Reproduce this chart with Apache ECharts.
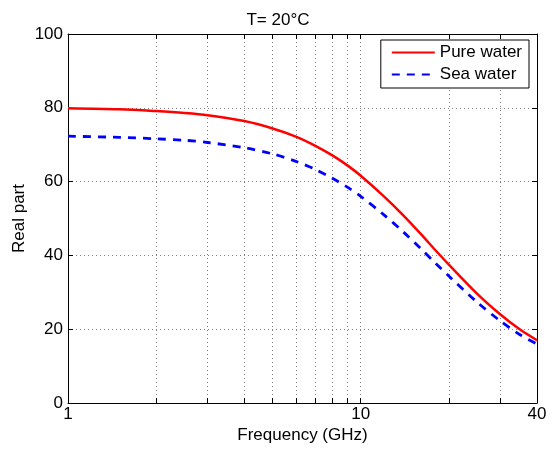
<!DOCTYPE html>
<html>
<head>
<meta charset="utf-8">
<script src="https://cdn.jsdelivr.net/npm/echarts@6/dist/echarts.min.js"></script>
<style>
  html, body { margin: 0; padding: 0; background: #fff; }
  #chart { width: 556px; height: 450px; }
</style>
</head>
<body>
<div id="chart"></div>
<script>
// Real part of the permittivity of water at 20 °C versus frequency
const freqGHz   = [1, 1.5, 2, 2.5, 3, 4, 5, 6, 7, 8, 9, 10, 12, 14, 16, 18, 20, 25, 30, 35, 40];
const pureWater = [79.9, 79.6, 79.1, 78.6, 78.0, 76.4, 74.4, 72.2, 69.7, 67.1, 64.4, 61.6, 56.0, 50.8, 45.9, 41.4, 37.5, 29.6, 24.0, 19.9, 17.0];
const seaWater  = [72.3, 72.0, 71.6, 71.2, 70.6, 69.2, 67.5, 65.5, 63.3, 60.9, 58.5, 56.0, 51.0, 46.3, 41.9, 37.9, 34.4, 27.3, 22.2, 18.5, 16.0];

const xTickValues  = [1, 2, 3, 4, 5, 6, 7, 8, 9, 10, 20, 30, 40];
const xLabelValues = [1, 10, 40];
const yTicks = { min: 0, max: 100, step: 20 };

const FONT = 'Liberation Sans, Arial, sans-serif';
const FS = 17;

function pairs(xs, ys) {
  return xs.map((x, i) => [x, ys[i]]);
}

const dotted = { color: '#808080', width: 1, type: [1, 3] };

const chart = echarts.init(document.getElementById('chart'), null, { renderer: 'canvas' });

chart.setOption({
  backgroundColor: '#fff',
  animation: false,
  textStyle: { fontFamily: FONT },
  title: {
    text: 'T= 20°C',
    left: 'center',
    top: 7,
    textStyle: { fontFamily: FONT, fontSize: FS, fontWeight: 'normal', color: '#000' }
  },
  grid: { left: 68, right: 19, top: 34, bottom: 47, containLabel: false },
  legend: {
    orient: 'vertical',
    right: 27,
    top: 40,
    padding: [4, 7, 5, 10],
    itemGap: 5,
    itemWidth: 43,
    itemHeight: 17,
    backgroundColor: '#fff',
    borderColor: '#000',
    borderWidth: 1,
    borderRadius: 0,
    itemStyle: { opacity: 0 },
    textStyle: { fontFamily: FONT, fontSize: FS, color: '#000' },
    data: ['Pure water', 'Sea water']
  },
  xAxis: [
    {
      type: 'log',
      logBase: 10,
      min: 1,
      max: 40,
      name: 'Frequency (GHz)',
      nameLocation: 'middle',
      nameGap: 24,
      nameMoveOverlap: false,
      nameTextStyle: { fontFamily: FONT, fontSize: FS, color: '#000' },
      axisLine: { show: true, onZero: false, lineStyle: { color: '#000', width: 1 } },
      axisTick: { show: true, inside: true, length: 5, customValues: xTickValues, lineStyle: { color: '#000' } },
      axisLabel: {
        customValues: xLabelValues,
        formatter: v => String(Math.round(v)),
        fontFamily: FONT, fontSize: FS, color: '#000', margin: 3
      },
      minorTick: { show: false },
      splitLine: { show: true, lineStyle: dotted }
    },
    {
      type: 'log',
      logBase: 10,
      min: 1,
      max: 40,
      position: 'top',
      axisLine: { show: true, onZero: false, lineStyle: { color: '#000', width: 1 } },
      axisTick: { show: true, inside: true, length: 5, customValues: xTickValues, lineStyle: { color: '#000' } },
      axisLabel: { show: false },
      splitLine: { show: false }
    }
  ],
  yAxis: [
    {
      type: 'value',
      min: yTicks.min,
      max: yTicks.max,
      interval: yTicks.step,
      name: 'Real part',
      nameLocation: 'middle',
      nameGap: 40,
      nameMoveOverlap: false,
      nameTextStyle: { fontFamily: FONT, fontSize: FS, color: '#000' },
      axisLine: { show: true, onZero: false, lineStyle: { color: '#000', width: 1 } },
      axisTick: { show: true, inside: true, length: 5, lineStyle: { color: '#000' } },
      axisLabel: { fontFamily: FONT, fontSize: FS, color: '#000', margin: 5 },
      splitLine: { show: true, lineStyle: dotted }
    },
    {
      type: 'value',
      min: yTicks.min,
      max: yTicks.max,
      interval: yTicks.step,
      position: 'right',
      axisLine: { show: true, onZero: false, lineStyle: { color: '#000', width: 1 } },
      axisTick: { show: true, inside: true, length: 5, lineStyle: { color: '#000' } },
      axisLabel: { show: false },
      splitLine: { show: false }
    }
  ],
  series: [
    {
      name: 'Pure water',
      type: 'line',
      xAxisIndex: 0,
      yAxisIndex: 0,
      data: pairs(freqGHz, pureWater),
      smooth: 0.3,
      symbol: 'none',
      color: '#ff0000',
      lineStyle: { color: '#ff0000', width: 2.5 }
    },
    {
      name: 'Sea water',
      type: 'line',
      xAxisIndex: 0,
      yAxisIndex: 0,
      data: pairs(freqGHz, seaWater),
      smooth: 0.3,
      symbol: 'none',
      color: '#0000ff',
      lineStyle: { color: '#0000ff', width: 2.8, type: [8, 7] }
    }
  ]
});
</script>
</body>
</html>
